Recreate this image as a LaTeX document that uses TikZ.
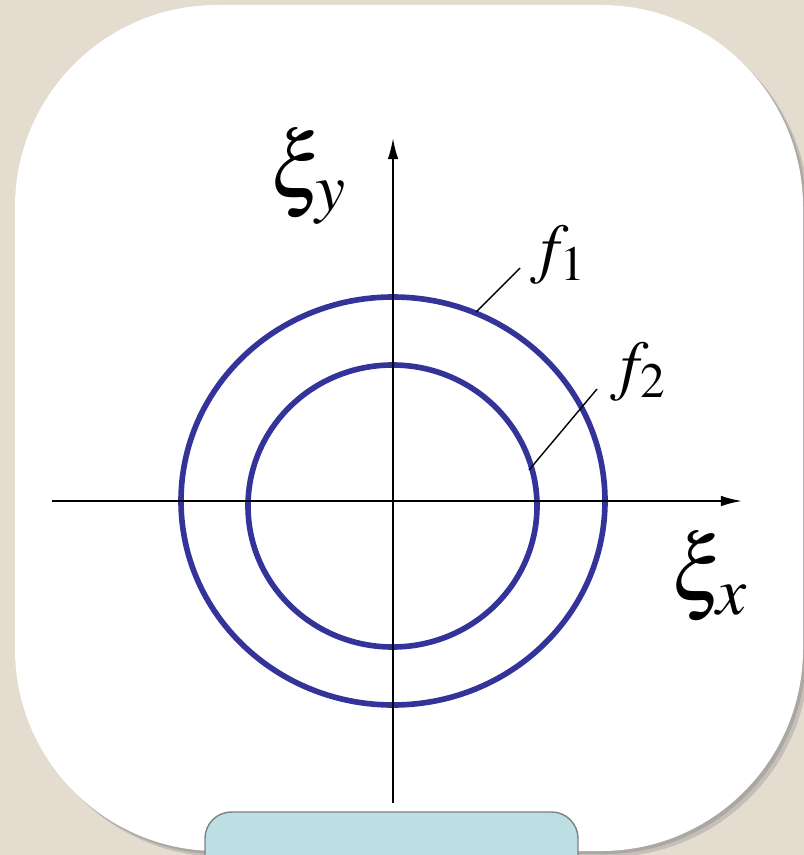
\documentclass[tikz,border=0pt]{standalone}
\usepackage{mathptmx}
\usepackage{tikz}
\usetikzlibrary{arrows.meta,positioning}
\definecolor{cardbg}{HTML}{E4DCCF}
\definecolor{ringblue}{HTML}{333399}
\definecolor{tabteal}{HTML}{BBDFE2}

\begin{document}
\begin{tikzpicture}[x=0.02cm, y=-0.02cm,
    axis/.style={draw=black, line width=1.1pt, -{Latex[length=12pt,width=6pt]}},
    ring/.style={draw=ringblue, line width=3.2pt},
    leader/.style={draw=black, line width=0.8pt},
    lbl/.style={font=\fontsize{38}{44}\selectfont, inner sep=0pt},
    axlbl/.style={font=\fontsize{52}{60}\selectfont, inner sep=0pt}]
    % background and card
    \fill[cardbg] (0,0) rectangle (804,855);
    \useasboundingbox (0,0) rectangle (804,855);
    \fill[black!45, opacity=0.35, rounded corners=115] (21,11) rectangle (809,857);
    \fill[black!45, opacity=0.45, rounded corners=115] (18,8) rectangle (806,854);
    \fill[white, rounded corners=115] (15,5) rectangle (803,851);
    \draw[draw=black!50, fill=tabteal, line width=0.8pt, rounded corners=15]
      (205,880) -- (205,812) -- (578,812) -- (578,880);
    % rings
    \draw[ring] (393,501) ellipse [x radius=212, y radius=204];
    \draw[ring] (392.5,506) ellipse [x radius=144.5, y radius=141];
    % axes
    \coordinate (xl) at (52,501);
    \coordinate (xr) at (742,501);
    \coordinate (yb) at (393,803);
    \coordinate (yt) at (393,138);
    \draw[axis] (xl) -- (xr);
    \draw[axis] (yb) -- (yt);
    \node[axlbl] (xiy) at (308,176) {$\xi_y$};
    \node[axlbl] (xix) at (710,576) {$\xi_x$};
    % labels of the rings
    \node[lbl] (fone) at (558,255) {$f_1$};
    \node[lbl] (ftwo) at (638,372) {$f_2$};
    \coordinate (t1) at (520,268);
    \coordinate (p1) at (476,312);
    \coordinate (t2) at (597,389);
    \coordinate (p2) at (529,470);
    \draw[leader] (t1) -- (p1);
    \draw[leader] (t2) -- (p2);
\end{tikzpicture}
\end{document}
